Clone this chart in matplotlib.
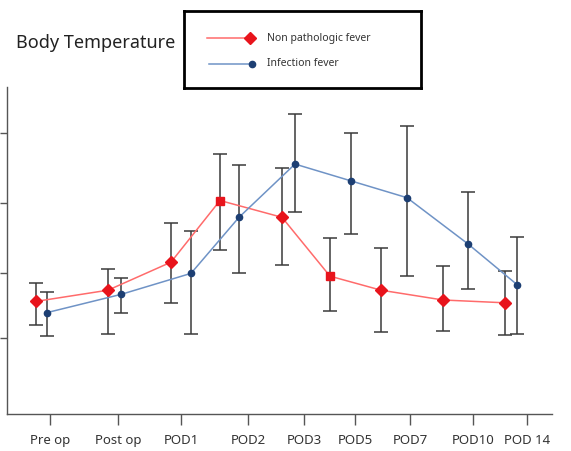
import numpy as np
import matplotlib.pyplot as plt
from matplotlib.lines import Line2D

plt.rcParams['font.family'] = ['Noto Sans', 'DejaVu Sans']

# Data (temperature, deg C; no y labels shown)
categories = ['Pre op', 'Post op', 'POD1', 'POD2', 'POD3', 'POD5', 'POD7', 'POD10', 'POD 14']
tick_x = [4.3, 11.1, 17.4, 24.1, 29.7, 34.8, 40.3, 46.6, 52.0]

red_x = [2.9, 10.1, 16.4, 21.3, 27.5, 32.3, 37.4, 43.6, 49.8]
red_mean = [36.80, 36.88, 37.08, 37.52, 37.40, 36.98, 36.88, 36.81, 36.79]
red_low = [36.63, 36.57, 36.79, 37.17, 37.06, 36.73, 36.58, 36.59, 36.56]
red_high = [36.93, 37.03, 37.36, 37.85, 37.75, 37.25, 37.18, 37.05, 37.02]

blue_x = [4.0, 11.4, 18.4, 23.2, 28.8, 34.4, 40.0, 46.1, 51.0]
blue_mean = [36.72, 36.85, 37.00, 37.40, 37.78, 37.66, 37.54, 37.21, 36.92]
blue_low = [36.55, 36.72, 36.57, 37.00, 37.44, 37.28, 36.98, 36.89, 36.57]
blue_high = [36.87, 36.97, 37.30, 37.77, 38.14, 38.00, 38.05, 37.58, 37.26]

ytick_vals = [36.54, 37.0, 37.5, 38.0]

red_markers = ['D', 'D', 'D', 's', 'D', 's', 'D', 'D', 'D']

red_line = '#ff6b6b'
red_mark = '#e8141c'
blue_line = '#6f93c6'
blue_mark = '#1d3f73'
err_col = '#3a3a3a'

fig = plt.figure(figsize=(5.71, 4.51), dpi=100)
ax = fig.add_axes([7 / 571, 37.5 / 451, 545 / 571, 326.5 / 451])

# error bars
for xs, m, lo, hi in [(red_x, red_mean, red_low, red_high),
                      (blue_x, blue_mean, blue_low, blue_high)]:
    m = np.array(m)
    yerr = [m - np.array(lo), np.array(hi) - m]
    ax.errorbar(xs, m, yerr=yerr, fmt='none', ecolor=err_col,
                elinewidth=1.1, capsize=5, capthick=1.1, zorder=2)

# lines
ax.plot(red_x, red_mean, color=red_line, lw=1.1, zorder=3)
ax.plot(blue_x, blue_mean, color=blue_line, lw=1.1, zorder=3)

# markers
for xv, yv, mk in zip(red_x, red_mean, red_markers):
    ax.plot(xv, yv, marker=mk, color=red_mark, ms=6 if mk == 'D' else 5.5,
            mec=red_mark, zorder=4)
ax.plot(blue_x, blue_mean, 'o', color=blue_mark, ms=4.5, zorder=4)

ax.set_xlim(0, 54.5)
ax.set_ylim(36.0, 38.33)
ax.set_xticks(tick_x)
ax.set_xticklabels(categories, fontsize=9.5, color='#333333')
ax.set_yticks(ytick_vals)
ax.set_yticklabels([])
ax.tick_params(axis='x', length=8, width=1, color='#555555', pad=7)
ax.tick_params(axis='y', length=5, width=1, color='#555555')
for s in ['top', 'right']:
    ax.spines[s].set_visible(False)
for s in ['left', 'bottom']:
    ax.spines[s].set_color('#555555')
    ax.spines[s].set_linewidth(1)

# title
fig.text(16 / 571, 1 - 48 / 451, 'Body Temperature', fontsize=13,
         color='#222222', va='baseline', ha='left')

# legend box drawn as its own small axes
lax = fig.add_axes([184 / 571, 1 - 88 / 451, 237 / 571, 77 / 451])
lax.set_xlim(184, 421)
lax.set_ylim(88, 11)
lax.set_xticks([])
lax.set_yticks([])
for s in lax.spines.values():
    s.set_linewidth(2)
    s.set_color('black')
lax.add_line(Line2D([207, 250], [38, 38], color=red_line, lw=1.1))
lax.plot(250, 38, 'D', color=red_mark, ms=6)
lax.add_line(Line2D([209, 252], [64, 64], color=blue_line, lw=1.1))
lax.plot(252, 64, 'o', color=blue_mark, ms=4.5)
lax.text(267, 38, 'Non pathologic fever', fontsize=7.5, va='center', color='#333333')
lax.text(267, 64, 'Infection fever', fontsize=7.5, va='center', color='#333333')

fig.savefig('out.png', dpi=100)
